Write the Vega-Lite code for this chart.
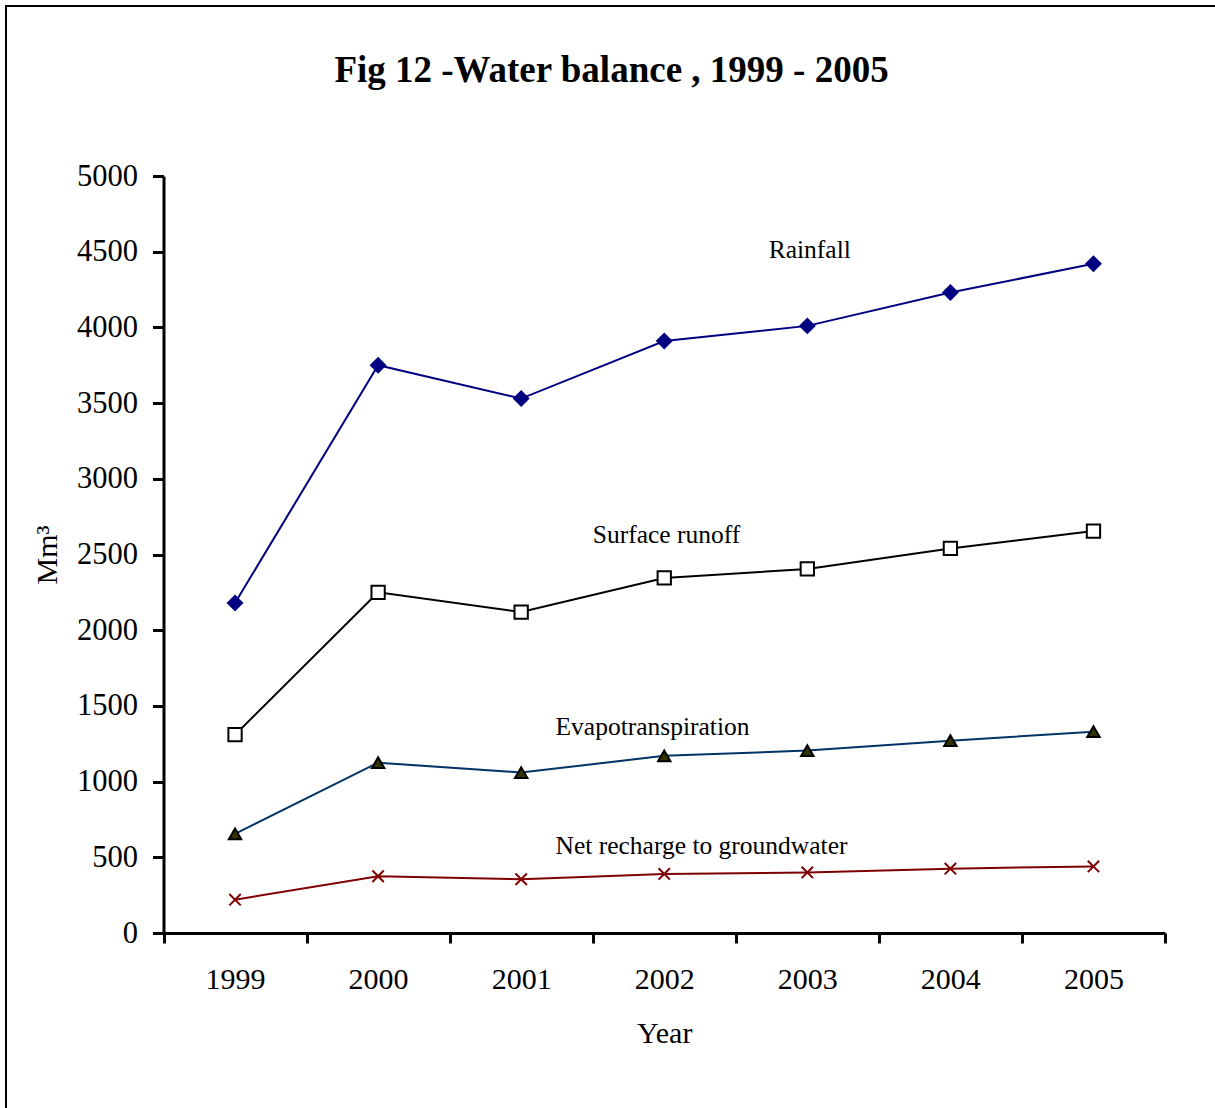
{
  "$schema": "https://vega.github.io/schema/vega-lite/v6.json",
  "width": 1211,
  "height": 1105,
  "autosize": "none",
  "padding": {"left": 6, "top": 6, "right": -2, "bottom": -3},
  "background": "white",
  "title": {
    "text": "Fig 12 -Water balance , 1999 - 2005",
    "font": "Liberation Serif",
    "fontSize": 37,
    "fontWeight": "bold",
    "color": "black",
    "anchor": "middle",
    "frame": "group",
    "offset": -84
  },
  "datasets": {
    "series": [
      {"year": 1999, "series": "Rainfall", "value": 2180},
      {"year": 2000, "series": "Rainfall", "value": 3750},
      {"year": 2001, "series": "Rainfall", "value": 3530},
      {"year": 2002, "series": "Rainfall", "value": 3910},
      {"year": 2003, "series": "Rainfall", "value": 4010},
      {"year": 2004, "series": "Rainfall", "value": 4230},
      {"year": 2005, "series": "Rainfall", "value": 4420},
      {"year": 1999, "series": "Surface runoff", "value": 1310},
      {"year": 2000, "series": "Surface runoff", "value": 2250},
      {"year": 2001, "series": "Surface runoff", "value": 2120},
      {"year": 2002, "series": "Surface runoff", "value": 2345},
      {"year": 2003, "series": "Surface runoff", "value": 2405},
      {"year": 2004, "series": "Surface runoff", "value": 2540},
      {"year": 2005, "series": "Surface runoff", "value": 2655},
      {"year": 1999, "series": "Evapotranspiration", "value": 655},
      {"year": 2000, "series": "Evapotranspiration", "value": 1125},
      {"year": 2001, "series": "Evapotranspiration", "value": 1060},
      {"year": 2002, "series": "Evapotranspiration", "value": 1170},
      {"year": 2003, "series": "Evapotranspiration", "value": 1205},
      {"year": 2004, "series": "Evapotranspiration", "value": 1270},
      {"year": 2005, "series": "Evapotranspiration", "value": 1330},
      {"year": 1999, "series": "Net recharge to groundwater", "value": 220},
      {"year": 2000, "series": "Net recharge to groundwater", "value": 375},
      {"year": 2001, "series": "Net recharge to groundwater", "value": 355},
      {"year": 2002, "series": "Net recharge to groundwater", "value": 390},
      {"year": 2003, "series": "Net recharge to groundwater", "value": 400},
      {"year": 2004, "series": "Net recharge to groundwater", "value": 425},
      {"year": 2005, "series": "Net recharge to groundwater", "value": 440}
    ],
    "labels": [
      {"label": "Rainfall", "year": 2002.73, "value": 4511},
      {"label": "Surface runoff", "year": 2001.5, "value": 2629},
      {"label": "Evapotranspiration", "year": 2001.24, "value": 1361},
      {"label": "Net recharge to groundwater", "year": 2001.24, "value": 575}
    ]
  },
  "encoding": {
    "x": {
      "field": "year",
      "type": "quantitative",
      "scale": {"domain": [1998.5, 2005.5], "range": [157.5, 1159], "nice": false, "zero": false},
      "axis": {
        "orient": "bottom",
        "offset": -178,
        "values": [1998.5, 1999.5, 2000.5, 2001.5, 2002.5, 2003.5, 2004.5, 2005.5],
        "tickSize": 10,
        "labelOffset": 71.5,
        "labelExpr": "datum.value > 2005 ? '' : format(datum.value + 0.5, 'd')",
        "labelFlush": false,
        "labelOverlap": false,
        "labelBound": false,
        "labelPadding": 21,
        "labelFont": "Liberation Serif",
        "labelFontSize": 30,
        "title": "Year",
        "titleFont": "Liberation Serif",
        "titlePadding": 24
      }
    },
    "y": {
      "field": "value",
      "type": "quantitative",
      "scale": {"domain": [0, 5000], "range": [927, 170], "nice": false, "zero": false},
      "axis": {
        "orient": "left",
        "offset": -157.5,
        "values": [0, 500, 1000, 1500, 2000, 2500, 3000, 3500, 4000, 4500, 5000],
        "format": "d",
        "tickSize": 11,
        "labelPadding": 15,
        "labelFlush": false,
        "labelOverlap": false,
        "labelFont": "Liberation Serif",
        "labelFontSize": 30.5,
        "title": "Mm³",
        "titleFont": "Liberation Serif",
        "titlePadding": 14
      }
    }
  },
  "layer": [
    {
      "data": {"name": "series"},
      "mark": {"type": "line", "strokeWidth": 2},
      "encoding": {
        "color": {
          "field": "series",
          "type": "nominal",
          "scale": {
            "domain": ["Rainfall", "Surface runoff", "Evapotranspiration", "Net recharge to groundwater"],
            "range": ["#000080", "#000000", "#003366", "#800000"]
          },
          "legend": null
        }
      }
    },
    {
      "data": {"name": "series"},
      "mark": {"type": "point", "filled": true, "opacity": 1, "strokeWidth": 2},
      "encoding": {
        "shape": {
          "field": "series",
          "type": "nominal",
          "scale": {
            "domain": ["Rainfall", "Surface runoff", "Evapotranspiration", "Net recharge to groundwater"],
            "range": ["diamond", "square", "triangle-up", "M-1,-1L1,1M-1,1L1,-1"]
          },
          "legend": null
        },
        "fill": {
          "field": "series",
          "type": "nominal",
          "scale": {
            "domain": ["Rainfall", "Surface runoff", "Evapotranspiration", "Net recharge to groundwater"],
            "range": ["#000080", "#ffffff", "#333300", "transparent"]
          },
          "legend": null
        },
        "stroke": {
          "field": "series",
          "type": "nominal",
          "scale": {
            "domain": ["Rainfall", "Surface runoff", "Evapotranspiration", "Net recharge to groundwater"],
            "range": ["#000080", "#000000", "#000000", "#800000"]
          },
          "legend": null
        },
        "size": {
          "field": "series",
          "type": "nominal",
          "scale": {
            "domain": ["Rainfall", "Surface runoff", "Evapotranspiration", "Net recharge to groundwater"],
            "range": [200, 130, 190, 150]
          },
          "legend": null
        }
      }
    },
    {
      "data": {"name": "labels"},
      "mark": {"type": "text", "align": "left", "baseline": "middle", "font": "Liberation Serif", "fontSize": 25.5, "color": "black"},
      "encoding": {
        "text": {"field": "label", "type": "nominal"}
      }
    }
  ],
  "config": {
    "view": {"stroke": "black", "strokeWidth": 2},
    "axis": {
      "grid": false,
      "domainColor": "black",
      "domainWidth": 3,
      "tickColor": "black",
      "tickWidth": 3,
      "labelFont": "Liberation Serif",
      "labelFontSize": 30,
      "labelColor": "black",
      "titleFont": "Liberation Serif",
      "titleFontSize": 30,
      "titleFontWeight": "normal",
      "titleColor": "black"
    }
  }
}
